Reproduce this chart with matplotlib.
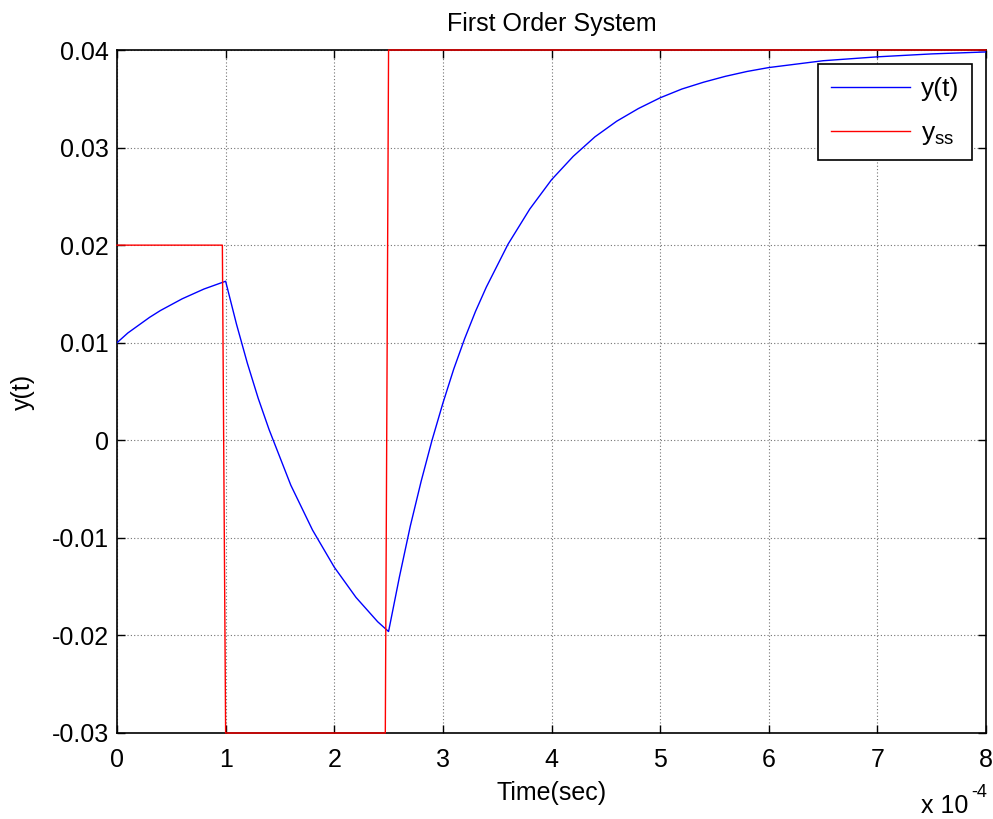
import numpy as np
import matplotlib
matplotlib.use("Agg")
import matplotlib.pyplot as plt

# time in units of 1e-4 s
t_y = [0.0, 0.1, 0.2, 0.3, 0.4, 0.6, 0.8, 1.0,
       1.1, 1.2, 1.3, 1.4, 1.6, 1.8, 2.0, 2.2, 2.4, 2.5,
       2.6, 2.7, 2.8, 2.9, 3.0, 3.1, 3.2, 3.3, 3.4, 3.6, 3.8, 4.0, 4.2,
       4.4, 4.6, 4.8, 5.0, 5.2, 5.4, 5.6, 5.8, 6.0, 6.5, 7.0, 7.5, 8.0]
y_t = [0.0100, 0.0110, 0.0118, 0.0126, 0.0133, 0.0145, 0.0155, 0.0163,
       0.0119, 0.0079, 0.0043, 0.0011, -0.0046, -0.0092, -0.0130, -0.0161,
       -0.0186, -0.0196,
       -0.0140, -0.0088, -0.0042, 0.0000, 0.0038, 0.0073, 0.0104, 0.0132,
       0.0157, 0.0201, 0.0237, 0.0267, 0.0291, 0.0311, 0.0327, 0.0340,
       0.0351, 0.0360, 0.0367, 0.0373, 0.0378, 0.0382, 0.0389, 0.0393,
       0.0396, 0.0398]

t_ss = [0.0, 0.97, 1.0, 2.47, 2.5, 8.0]
y_ss = [0.02, 0.02, -0.03, -0.03, 0.04, 0.04]

xticks = [0, 1, 2, 3, 4, 5, 6, 7, 8]
yticks = [-0.03, -0.02, -0.01, 0, 0.01, 0.02, 0.03, 0.04]
ytick_labels = ["-0.03", "-0.02", "-0.01", "0", "0.01", "0.02", "0.03", "0.04"]

plt.rcParams['font.family'] = ['Liberation Sans', 'DejaVu Sans']
plt.rcParams['mathtext.fontset'] = 'custom'
plt.rcParams['mathtext.rm'] = 'Liberation Sans'
plt.rcParams['mathtext.it'] = 'Liberation Sans'

fig = plt.figure(figsize=(9.93, 8.19), dpi=100)
ax = fig.add_axes([117 / 993, 1 - 733 / 819, 869 / 993, 683 / 819])

ax.plot(t_y, y_t, color=(0, 0, 1), lw=1.0, label='y(t)', zorder=3)
ax.plot(t_ss, y_ss, color=(1, 0, 0), lw=1.0, label=r'$\mathregular{y_{ss}}$',
        zorder=4, clip_on=False)

ax.set_xlim(0, 8)
ax.set_ylim(-0.03, 0.04)
ax.set_xticks(xticks)
ax.set_xticklabels([str(v) for v in xticks])
ax.set_yticks(yticks)
ax.set_yticklabels(ytick_labels)
ax.tick_params(direction='in', length=6, width=1, top=True, right=True,
               labelsize=18)
ax.tick_params(axis='x', pad=11)
ax.tick_params(axis='y', pad=6)
for s in ax.spines.values():
    s.set_linewidth(1.2)
ax.grid(True, color='0.45', linestyle=(0, (1, 2)), linewidth=0.8)

ax.set_title('First Order System', fontsize=18, pad=14)
ax.set_xlabel('Time(sec)', fontsize=18, labelpad=6)
ax.set_ylabel('y(t)', fontsize=18, labelpad=12)

# exponent label, hyphen kept as in the original
fig.text(968 / 993, 1 - 813 / 819, 'x 10', ha='right', va='baseline', fontsize=18)
fig.text(971 / 993, 1 - 797 / 819, '-4', ha='left', va='baseline', fontsize=13)

leg = ax.legend(loc='upper right', bbox_to_anchor=(0.984, 0.9795),
                fontsize=19, fancybox=False, framealpha=1, edgecolor='black',
                handlelength=3.0, handletextpad=0.4, borderaxespad=0,
                labelspacing=0.75, borderpad=0.5)
leg.get_frame().set_linewidth(1.2)

fig.savefig('out.png', dpi=100)
